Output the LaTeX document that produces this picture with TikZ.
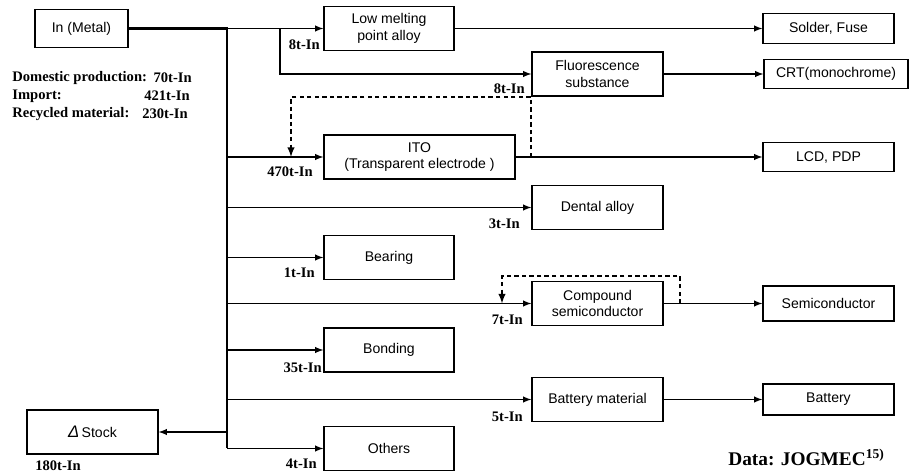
\documentclass[tikz,border=0pt]{standalone}
\usepackage{fontspec}
\setmainfont{Liberation Serif}
\setsansfont{Liberation Sans}
\usetikzlibrary{arrows}

\begin{document}
\begin{tikzpicture}[x=0.02cm,y=-0.02cm,
    box/.style={draw,line width=0.8pt,minimum height=0.88cm,align=center,inner sep=1pt,font=\sffamily\fontsize{8}{9.6}\selectfont},
    lbl/.style={inner sep=0pt,font=\bfseries\fontsize{8.3}{10}\selectfont},
    flow/.style={->,>=latex,line width=0.6pt}]
    \useasboundingbox (0,0) rectangle (909,472);
    \node[box,minimum width=1.86cm,minimum height=0.76cm] (Metal) at (81.5,28.5) {In (Metal)};
    \node[box,minimum width=2.6cm] (Low) at (389,28.5) {Low melting\\point alloy};
    \node[box,minimum width=2.62cm] (Fluo) at (597.5,74) {Fluorescence\\substance};
    \node[box,minimum width=3.82cm] (ITO) at (419.5,157) {ITO\\(Transparent electrode )};
    \node[box,minimum width=2.62cm] (Dental) at (597.5,207.5) {Dental alloy};
    \node[box,minimum width=2.6cm] (Bearing) at (389,257.5) {Bearing};
    \node[box,minimum width=2.62cm] (Comp) at (597.5,303.5) {Compound\\semiconductor};
    \node[box,minimum width=2.6cm] (Bonding) at (389,350) {Bonding};
    \node[box,minimum width=2.62cm] (BatMat) at (597.5,399.5) {Battery material};
    \node[box,minimum width=2.6cm] (Others) at (389,448.5) {Others};
    \node[box,minimum width=2.62cm,minimum height=0.6cm] (Solder) at (828.5,28.5) {Solder, Fuse};
    \node[box,minimum width=2.88cm,minimum height=0.58cm] (CRT) at (836,74) {CRT(monochrome)};
    \node[box,minimum width=2.62cm,minimum height=0.58cm] (LCD) at (828.5,157) {LCD, PDP};
    \node[box,minimum width=2.62cm,minimum height=0.7cm] (Semi) at (828.5,303.5) {Semiconductor};
    \node[box,minimum width=2.62cm,minimum height=0.62cm] (Battery) at (828.5,399.5) {Battery};
    \node[box,minimum width=2.62cm] (Stock) at (92.5,432) {{\itshape\fontsize{9.5}{10}\selectfont Δ}\,Stock};

    \coordinate (Top) at (227,28.5);
    \coordinate (Bot) at (227,448.5);
    \coordinate (Split) at (280,28.5);
    \coordinate (RetA) at (531,157);
    \coordinate (InA) at (291,157);
    \coordinate (RetB) at (680,303.5);
    \coordinate (InB) at (502,303.5);

    \draw[line width=1.2pt] (Metal) -- (Top) -- (Bot);
    \draw[flow] (Top) -- (Low);
    \draw[flow] (Split) |- (Fluo);
    \draw[flow] (Top |- ITO) -- (ITO);
    \draw[flow] (Top |- Dental) -- (Dental);
    \draw[flow] (Top |- Bearing) -- (Bearing);
    \draw[flow] (Top |- Comp) -- (Comp);
    \draw[flow] (Top |- Bonding) -- (Bonding);
    \draw[flow] (Top |- BatMat) -- (BatMat);
    \draw[flow] (Bot) -- (Others);
    \draw[flow] (Top |- Stock) -- (Stock);
    \draw[flow] (Low) -- (Solder);
    \draw[flow] (Fluo) -- (CRT);
    \draw[flow] (ITO) -- (LCD);
    \draw[flow] (Comp) -- (Semi);
    \draw[flow] (BatMat) -- (Battery);
    \draw[flow,line width=0.9pt,dash pattern=on 2.5pt off 1.8pt] (RetA) -- ++(0,-60) -| (InA);
    \draw[flow,line width=0.9pt,dash pattern=on 2.5pt off 1.8pt] (RetB) -- ++(0,-27.5) -| (InB);

    \node[lbl,anchor=east] (LowIn) at (320,45) {8t-In};
    \node[lbl,anchor=east] (FluoIn) at (525,89) {8t-In};
    \node[lbl,anchor=east] (ITOIn) at (313,172) {470t-In};
    \node[lbl,anchor=east] (DentalIn) at (520,224) {3t-In};
    \node[lbl,anchor=east] (BearingIn) at (315,273) {1t-In};
    \node[lbl,anchor=east] (CompIn) at (523,320) {7t-In};
    \node[lbl,anchor=east] (BondingIn) at (322,368) {35t-In};
    \node[lbl,anchor=east] (BatMatIn) at (523,417) {5t-In};
    \node[lbl,anchor=east] (OthersIn) at (317,464) {4t-In};
    \node[lbl,anchor=west] (StockIn) at (35,466) {180t-In};

    \node[lbl,anchor=west] (Dom) at (12,78) {Domestic production:};
    \node[lbl,anchor=east] (DomVal) at (192,78) {70t-In};
    \node[lbl,anchor=west] (Imp) at (12,96) {Import:};
    \node[lbl,anchor=east] (ImpVal) at (190,96) {421t-In};
    \node[lbl,anchor=west] (Rec) at (12,114) {Recycled material:};
    \node[lbl,anchor=east] (RecVal) at (188,114) {230t-In};

    \node[inner sep=0pt,anchor=base west,font=\bfseries\fontsize{11}{13}\selectfont] (Data) at (728,465) {Data: JOGMEC\textsuperscript{15)}};
\end{tikzpicture}
\end{document}
